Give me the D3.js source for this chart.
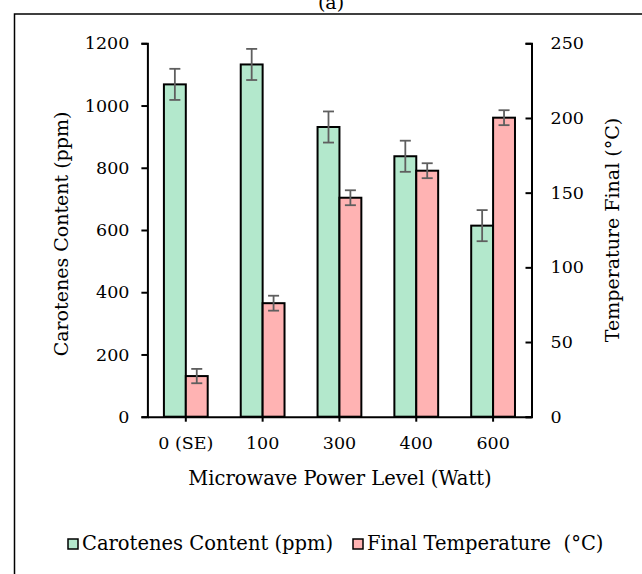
<!DOCTYPE html>
<html>
<head>
<meta charset="utf-8">
<script src="https://cdn.jsdelivr.net/npm/d3@7"></script>
<style>
  body { margin: 0; background: #fff; }
  text { font-family: "DejaVu Serif", serif; fill: #000; }
</style>
</head>
<body>
<div id="plot"></div>
<script>
// Carotenes vs final temperature, by microwave power level

var categories = ["0 (SE)", "100", "300", "400", "600"];
var carotenes = [1068, 1132, 931, 837, 614];
var carotenesErr = [50, 50, 50, 50, 50];
var temperature = [27.2, 76, 146.6, 164.7, 200.2];
var temperatureErr = [4.8, 5, 5, 5, 5];
var leftTicks = [0, 200, 400, 600, 800, 1000, 1200];
var rightTicks = [0, 50, 100, 150, 200, 250];

var svgWidth = 642;
var svgHeight = 574;

var plot = { left: 147.4, right: 531.5, top: 43.3, bottom: 416.7 };

var svg = d3.select("#plot")
  .append("svg")
  .attr("width", svgWidth)
  .attr("height", svgHeight);

svg.append("rect")
  .attr("width", svgWidth)
  .attr("height", svgHeight)
  .attr("fill", "#fff");

// outer frame (runs off the right and bottom edges)
svg.append("rect")
  .attr("x", 14.5)
  .attr("y", 14)
  .attr("width", 700)
  .attr("height", 700)
  .attr("fill", "none")
  .attr("stroke", "#000")
  .attr("stroke-width", 1.5);

svg.append("text")
  .attr("x", 331)
  .attr("y", 9)
  .attr("text-anchor", "middle")
  .style("font-size", "19px")
  .text("(a)");

var x = d3.scaleBand()
  .domain(categories)
  .range([plot.left, plot.right]);

var yLeft = d3.scaleLinear()
  .domain([0, 1200])
  .range([plot.bottom, plot.top]);

var yRight = d3.scaleLinear()
  .domain([0, 250])
  .range([plot.bottom, plot.top]);

var barW = x.bandwidth() * 0.285;

var rows = categories.map(function (c, i) {
  return { cat: c, car: carotenes[i], carErr: carotenesErr[i], temp: temperature[i], tempErr: temperatureErr[i] };
});

var green = "#b3e8cc";
var red = "#ffb3b3";

// bars
var groups = svg.selectAll(".grp")
  .data(rows)
  .enter()
  .append("g")
  .attr("class", "grp");

groups.append("rect")
  .attr("x", d => x(d.cat) + x.bandwidth() / 2 - barW)
  .attr("y", d => yLeft(d.car))
  .attr("width", barW)
  .attr("height", d => plot.bottom - yLeft(d.car))
  .attr("fill", green)
  .attr("stroke", "#000")
  .attr("stroke-width", 2);

groups.append("rect")
  .attr("x", d => x(d.cat) + x.bandwidth() / 2)
  .attr("y", d => yRight(d.temp))
  .attr("width", barW)
  .attr("height", d => plot.bottom - yRight(d.temp))
  .attr("fill", red)
  .attr("stroke", "#000")
  .attr("stroke-width", 2);

// error bars
function errorBar(sel, cx, yTop, yBot) {
  var cap = 5.5;
  sel.append("line")
    .attr("x1", cx).attr("x2", cx).attr("y1", yTop).attr("y2", yBot);
  sel.append("line")
    .attr("x1", d => cx(d) - cap).attr("x2", d => cx(d) + cap).attr("y1", yTop).attr("y2", yTop);
  sel.append("line")
    .attr("x1", d => cx(d) - cap).attr("x2", d => cx(d) + cap).attr("y1", yBot).attr("y2", yBot);
}

var errG = groups.append("g")
  .attr("stroke", "#5f5f5f")
  .attr("stroke-width", 1.8);

errorBar(errG,
  d => x(d.cat) + x.bandwidth() / 2 - barW / 2,
  d => yLeft(d.car + d.carErr),
  d => yLeft(d.car - d.carErr));

errorBar(errG,
  d => x(d.cat) + x.bandwidth() / 2 + barW / 2,
  d => yRight(d.temp + d.tempErr),
  d => yRight(d.temp - d.tempErr));

// axes
var leftAxis = d3.axisLeft(yLeft)
  .tickValues(leftTicks)
  .tickFormat(d3.format("d"))
  .tickSizeInner(6)
  .tickSizeOuter(6)
  .tickPadding(12);

var rightAxis = d3.axisRight(yRight)
  .tickValues(rightTicks)
  .tickFormat(d3.format("d"))
  .tickSizeInner(-6)
  .tickSizeOuter(-6)
  .tickPadding(19);

var bottomAxis = d3.axisBottom(x)
  .tickSizeInner(5)
  .tickSizeOuter(0)
  .tickPadding(15);

function styleAxis(g) {
  g.selectAll("path, line").attr("stroke", "#000").attr("stroke-width", 2);
  g.selectAll("text").style("font-size", "17.5px").style("font-family", "DejaVu Serif, serif");
}

svg.append("g")
  .attr("transform", `translate(${plot.left}, 0)`)
  .call(leftAxis)
  .call(styleAxis);

svg.append("g")
  .attr("transform", `translate(${plot.right}, 0)`)
  .call(rightAxis)
  .call(styleAxis);

svg.append("g")
  .attr("transform", `translate(0, ${plot.bottom})`)
  .call(bottomAxis)
  .call(styleAxis);

// axis titles
svg.append("text")
  .attr("transform", "translate(68, 234) rotate(-90)")
  .attr("text-anchor", "middle")
  .style("font-size", "19px")
  .text("Carotenes Content (ppm)");

svg.append("text")
  .attr("transform", "translate(619, 230) rotate(-90)")
  .attr("text-anchor", "middle")
  .style("font-size", "19px")
  .text("Temperature Final (°C)");

svg.append("text")
  .attr("x", 340)
  .attr("y", 485)
  .attr("text-anchor", "middle")
  .style("font-size", "19.5px")
  .text("Microwave Power Level (Watt)");

// legend
var legendItems = [
  { label: "Carotenes Content (ppm)", color: green, x: 68 },
  { label: "Final Temperature  (°C)", color: red, x: 353 }
];

var legend = svg.selectAll(".legend")
  .data(legendItems)
  .enter()
  .append("g")
  .attr("class", "legend")
  .attr("transform", d => `translate(${d.x}, 539)`);

legend.append("rect")
  .attr("width", 10)
  .attr("height", 10)
  .attr("fill", d => d.color)
  .attr("stroke", "#000")
  .attr("stroke-width", 1.5);

legend.append("text")
  .attr("x", 14)
  .attr("y", 11)
  .style("font-size", "19.5px")
  .style("white-space", "pre")
  .attr("xml:space", "preserve")
  .text(d => d.label);
</script>
</body>
</html>
